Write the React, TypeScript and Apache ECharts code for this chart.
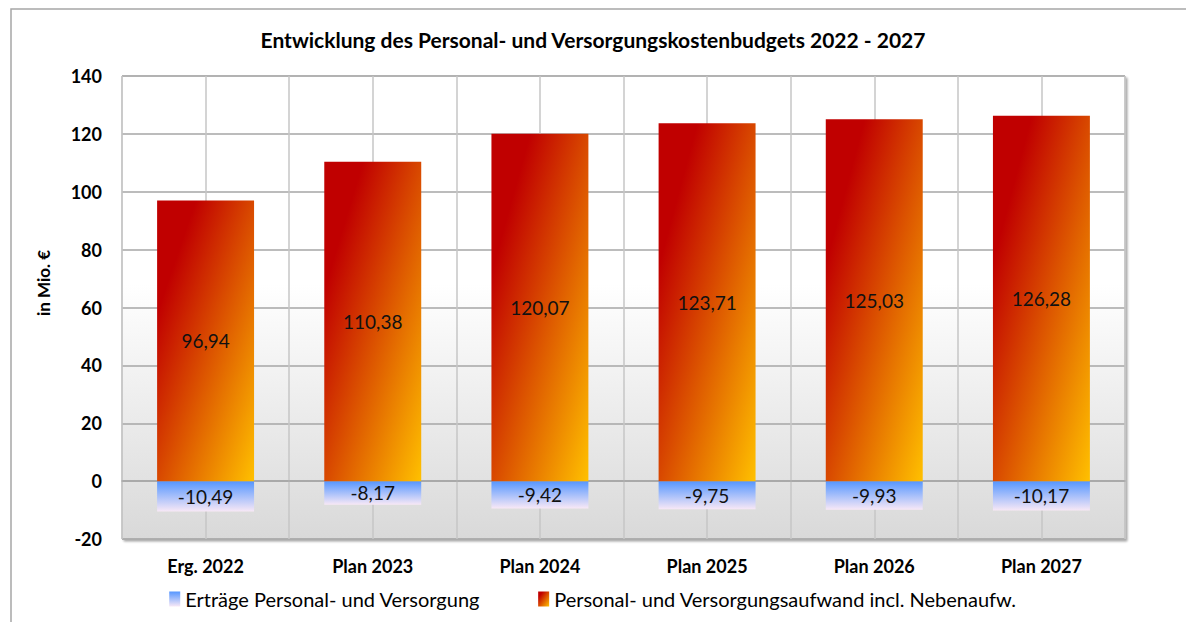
import React, { useEffect, useRef } from "react";
import * as echarts from "echarts";

const categories = ["Erg. 2022", "Plan 2023", "Plan 2024", "Plan 2025", "Plan 2026", "Plan 2027"];
const aufwand = [96.94, 110.38, 120.07, 123.71, 125.03, 126.28];
const ertraege = [-10.49, -8.17, -9.42, -9.75, -9.93, -10.17];
const yTicks = { min: -20, max: 140, interval: 20 };
const titleText = "Entwicklung des Personal- und Versorgungskostenbudgets 2022 - 2027";
const yName = "in Mio. €";
const seriesNames = ["Erträge Personal- und Versorgung", "Personal- und Versorgungsaufwand incl. Nebenaufw."];

const FONT = "Lato";

export default function App() {
  const ref = useRef<HTMLDivElement>(null);
  useEffect(() => {
    if (!ref.current) return;
    const chart = echarts.init(ref.current, undefined, { renderer: "svg" });
    const fmt = (p: any) => String(p.value.toFixed(2)).replace(".", ",");
    const redGrad = new echarts.graphic.LinearGradient(0, 0, 1, 1, [
      { offset: 0, color: "#c00000" },
      { offset: 0.2, color: "#c00000" },
      { offset: 0.55, color: "#dc5400" },
      { offset: 1, color: "#ffc000" },
    ]);
    const blueGrad = new echarts.graphic.LinearGradient(0, 0, 0, 1, [
      { offset: 0, color: "#5596ff" },
      { offset: 1, color: "#f8e8f6" },
    ]);
    chart.setOption({
      animation: false,
      textStyle: { fontFamily: FONT },
      title: {
        text: titleText,
        left: "center",
        top: 24,
        textStyle: { fontFamily: FONT, fontSize: 21, fontWeight: "bold", color: "#000" },
      },
      graphic: [
        {
          type: "rect",
          silent: true,
          shape: { x: 11, y: 9, width: 1300, height: 800 },
          style: { fill: "none", stroke: "#a6a6a6", lineWidth: 1.5 },
          z: -10,
        },
        {
          type: "text",
          x: 43,
          y: 283,
          rotation: Math.PI / 2,
          style: {
            text: yName,
            fontFamily: FONT,
            fontSize: 17,
            fontWeight: "bold",
            fill: "#000",
            align: "center",
            verticalAlign: "middle",
          },
        },
      ],
      legend: {
        bottom: 8,
        left: "center",
        itemWidth: 11,
        itemHeight: 15,
        itemGap: 58,
        icon: "rect",
        data: seriesNames,
        textStyle: { fontFamily: FONT, fontSize: 20, color: "#000" },
      },
      grid: {
        left: 122,
        right: 61,
        top: 76,
        bottom: 83,
        show: true,
        borderColor: "#b4b4b4",
        borderWidth: 1,
        backgroundColor: new echarts.graphic.LinearGradient(0, 0, 0, 1, [
          { offset: 0, color: "#ffffff" },
          { offset: 0.45, color: "#ffffff" },
          { offset: 1, color: "#d9d9d9" },
        ]),
        shadowColor: "rgba(0,0,0,0.35)",
        shadowOffsetX: 2,
        shadowOffsetY: 2,
        shadowBlur: 2,
      },
      xAxis: [
        {
          type: "category",
          data: categories,
          axisLine: { show: true, lineStyle: { color: "#a6a6a6", width: 1.5 } },
          axisTick: { show: false },
          splitLine: { show: false },
          axisLabel: { fontFamily: FONT, fontSize: 18, fontWeight: "bold", color: "#000", margin: 18 },
        },
        {
          type: "value",
          min: 0,
          max: 6,
          interval: 0.5,
          position: "top",
          axisLine: { show: false },
          axisTick: { show: false },
          axisLabel: { show: false },
          splitLine: { show: true, lineStyle: { color: "#c6c6c6", width: 1.5 } },
        },
      ],
      yAxis: {
        type: "value",
        min: yTicks.min,
        max: yTicks.max,
        interval: yTicks.interval,
        axisLine: { show: false },
        axisTick: { show: false },
        axisLabel: { fontFamily: FONT, fontSize: 18, fontWeight: "bold", color: "#000", margin: 20 },
        splitLine: { show: true, lineStyle: { color: "#a6a6a6", width: 1.5 } },
      },
      series: [
        {
          name: seriesNames[0],
          type: "bar",
          stack: "total",
          data: ertraege,
          barWidth: "58%",
          itemStyle: { color: blueGrad },
          label: {
            show: true,
            position: "inside",
            formatter: fmt,
            fontFamily: FONT,
            fontSize: 19,
            color: "#111",
          },
        },
        {
          name: seriesNames[1],
          type: "bar",
          stack: "total",
          data: aufwand,
          barWidth: "58%",
          itemStyle: { color: redGrad },
          label: {
            show: true,
            position: "inside",
            formatter: fmt,
            fontFamily: FONT,
            fontSize: 19,
            color: "#111",
          },
        },
      ],
    });
    return () => chart.dispose();
  }, []);
  return (
    <div
      ref={ref}
      style={{ position: "fixed", left: 0, top: 0, width: 1186, height: 622, background: "#fff" }}
    />
  );
}
